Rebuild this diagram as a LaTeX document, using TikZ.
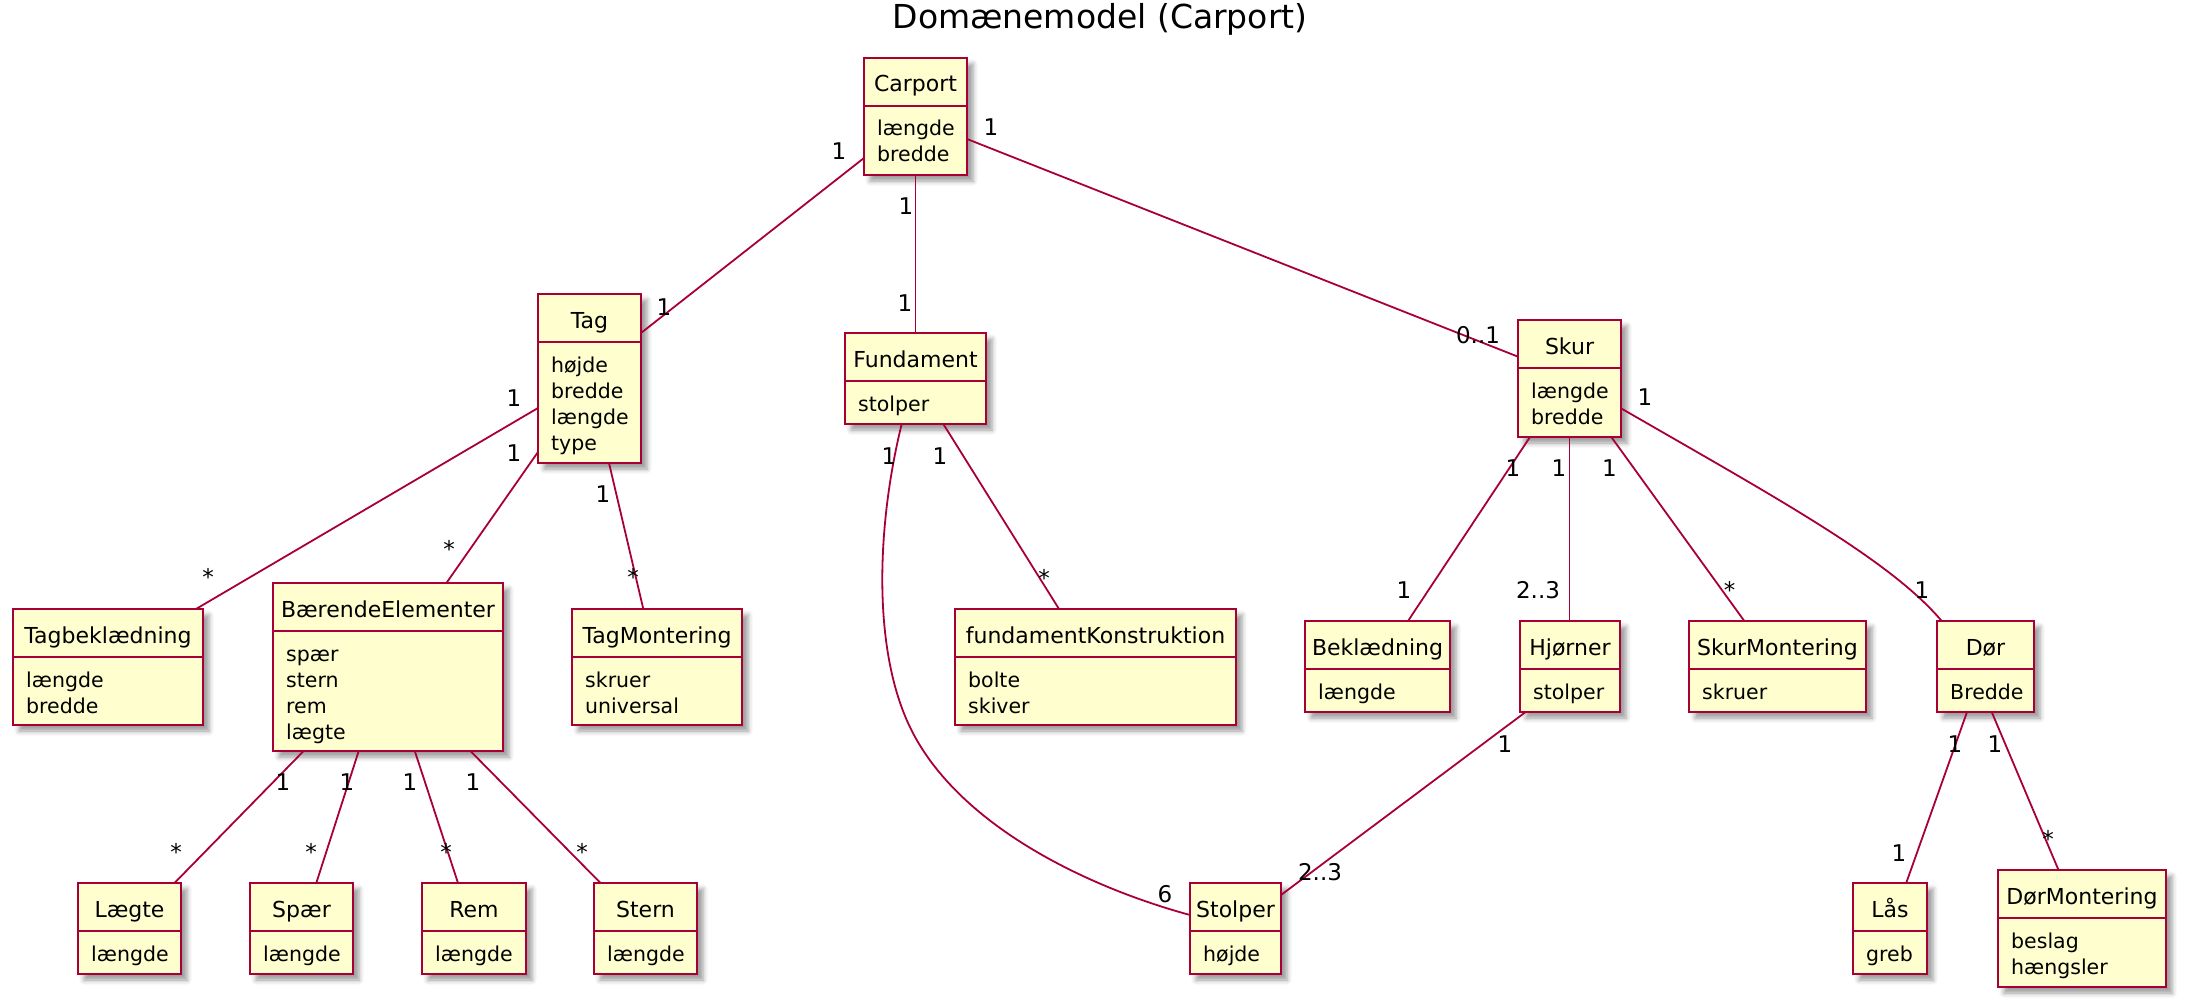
\documentclass[tikz,border=0pt]{standalone}
\usepackage{fontspec}
\setmainfont{DejaVu Sans}
\usetikzlibrary{shadows.blur}
\definecolor{umlred}{HTML}{A80036}
\definecolor{umlfill}{HTML}{FEFECE}
\tikzset{
 clsbox/.style={draw=umlred, fill=umlfill, line width=2.6pt, inner sep=0pt, outer sep=0pt, rectangle,
   blur shadow={shadow xshift=6pt, shadow yshift=-6pt, shadow blur radius=5pt}},
 clsline/.style={draw=umlred, line width=2.6pt},
 clsname/.style={font=\fontsize{22}{26}\selectfont, inner sep=0pt},
 clsattr/.style={font=\fontsize{20.5}{26}\selectfont, inner sep=0pt},
 conn/.style={draw=umlred, line width=1.8pt},
 mult/.style={font=\fontsize{23}{26}\selectfont, inner sep=0pt},
 titletext/.style={font=\fontsize{33}{38}\selectfont, inner sep=0pt},
}
\newcommand\umlclass[7]{%
  \node[clsbox, minimum width={(#4-#2)*1pt}, minimum height={(#5-#3)*1pt}, anchor=north west] (#1) at (#2,#3) {};
  \draw[clsline] ([yshift=-48pt]#1.north west) -- ([yshift=-48pt]#1.north east);
  \node[clsname, anchor=base] (#1-n) at ([yshift=-34pt]#1.north) {#6};
  \foreach \attrtext [count=\i from 0] in {#7} {
    \pgfmathsetmacro\yy{-(78+26*\i)}
    \node[clsattr, anchor=base west] (#1-a\i) at ([xshift=13pt, yshift=\yy pt]#1.north west) {\attrtext};
  }%
}
\begin{document}
\begin{tikzpicture}[x=1pt,y=-1pt]
\useasboundingbox (0,0) rectangle (2185,1006);
\node[titletext, anchor=base] (title) at (1100,29) {Domænemodel (Carport)};

\umlclass{carport}{864}{58}{967}{175}{Carport}{længde,bredde}
\umlclass{tag}{538}{294}{641}{463}{Tag}{højde,bredde,længde,type}
\umlclass{fundament}{845}{333}{986}{424}{Fundament}{stolper}
\umlclass{skur}{1518}{320}{1621}{437}{Skur}{længde,bredde}
\umlclass{tagbek}{13}{609}{203}{725}{Tagbeklædning}{længde,bredde}
\umlclass{baerende}{273}{583}{503}{751}{BærendeElementer}{spær,stern,rem,lægte}
\umlclass{tagmont}{572}{609}{742}{725}{TagMontering}{skruer,universal}
\umlclass{fundkon}{955}{609}{1236}{725}{fundamentKonstruktion}{bolte,skiver}
\umlclass{bekl}{1305}{621}{1450}{712}{Beklædning}{længde}
\umlclass{hjorner}{1520}{621}{1620}{712}{Hjørner}{stolper}
\umlclass{skurmont}{1689}{621}{1866}{712}{SkurMontering}{skruer}
\umlclass{dor}{1937}{621}{2034}{712}{Dør}{Bredde}
\umlclass{laegte}{78}{883}{181}{974}{Lægte}{længde}
\umlclass{spaer}{250}{883}{353}{974}{Spær}{længde}
\umlclass{rem}{422}{883}{526}{974}{Rem}{længde}
\umlclass{stern}{594}{883}{697}{974}{Stern}{længde}
\umlclass{stolper}{1190}{883}{1281}{974}{Stolper}{højde}
\umlclass{laas}{1853}{883}{1927}{974}{Lås}{greb}
\umlclass{dormont}{1998}{870}{2166}{987}{DørMontering}{beslag,hængsler}

\coordinate (fbend) at (906.7,720);
\draw[conn] ([shift={(0,100)}]carport.north west) -- ([shift={(103,39)}]tag.north west);
\draw[conn] (carport.south) -- (fundament.north);
\draw[conn] ([shift={(103,81)}]carport.north west) -- ([shift={(0,36.7)}]skur.north west);
\draw[conn] ([shift={(0,114)}]tag.north west) -- ([shift={(183,0)}]tagbek.north west);
\draw[conn] ([shift={(0,158)}]tag.north west) -- ([shift={(173.4,0)}]baerende.north west);
\draw[conn] ([shift={(71,169)}]tag.north west) -- ([shift={(71.3,0)}]tagmont.north west);
\draw[conn] ([shift={(56.7,91)}]fundament.north west) .. controls (878,520) and (872,640) .. (fbend) .. controls (950,820) and (1080,885) .. ([shift={(0,32)}]stolper.north west);
\draw[conn] ([shift={(98.3,91)}]fundament.north west) -- ([shift={(104,0)}]fundkon.north west);
\draw[conn] ([shift={(12,117)}]skur.north west) -- ([shift={(103,0)}]bekl.north west);
\draw[conn] (skur.south) -- (skur.south |- hjorner.north);
\draw[conn] ([shift={(93.3,117)}]skur.north west) -- ([shift={(55.3,0)}]skurmont.north west);
\draw[conn] ([shift={(103,88.3)}]skur.north west) .. controls (1780,500) and (1890,560) .. ([shift={(4.7,0)}]dor.north west);
\draw[conn] ([shift={(5.6,91)}]hjorner.north west) -- ([shift={(91,12)}]stolper.north west);
\draw[conn] ([shift={(30,91)}]dor.north west) -- ([shift={(53.2,0)}]laas.north west);
\draw[conn] ([shift={(54.7,91)}]dor.north west) -- ([shift={(60.5,0)}]dormont.north west);
\draw[conn] ([shift={(30.6,168)}]baerende.north west) -- ([shift={(96.5,0)}]laegte.north west);
\draw[conn] ([shift={(85.7,168)}]baerende.north west) -- ([shift={(66.3,0)}]spaer.north west);
\draw[conn] ([shift={(141.8,168)}]baerende.north west) -- ([shift={(36,0)}]rem.north west);
\draw[conn] ([shift={(197.4,168)}]baerende.north west) -- ([shift={(6.5,0)}]stern.north west);

\node[mult] (m1) at (839,151) {1};
\node[mult] (m2) at (664,307) {1};
\node[mult] (m3) at (906,206) {1};
\node[mult] (m4) at (905,303) {1};
\node[mult] (m5) at (991,127) {1};
\node[mult] (m6) at (1478,335) {0..1};
\node[mult] (m7) at (514,398) {1};
\node[mult] (m8) at (208,577) {*};
\node[mult] (m9) at (514,453) {1};
\node[mult] (m10) at (449,549) {*};
\node[mult] (m11) at (603,494) {1};
\node[mult] (m12) at (633,577) {*};
\node[mult] (m13) at (889,456) {1};
\node[mult] (m14) at (1165,894) {6};
\node[mult] (m15) at (940,456) {1};
\node[mult] (m16) at (1044,578) {*};
\node[mult] (m17) at (1513,468) {1};
\node[mult] (m18) at (1404,590) {1};
\node[mult] (m19) at (1559,468) {1};
\node[mult] (m20) at (1538,590) {2..3};
\node[mult] (m21) at (1609.5,468) {1};
\node[mult] (m22) at (1729.5,590) {*};
\node[mult] (m23) at (1645,397) {1};
\node[mult] (m24) at (1922,590) {1};
\node[mult] (m25) at (1505,744) {1};
\node[mult] (m26) at (1320,872) {2..3};
\node[mult] (m27) at (1955,744) {1};
\node[mult] (m28) at (1899,853) {1};
\node[mult] (m29) at (1995,744) {1};
\node[mult] (m30) at (2048,839) {*};
\node[mult] (m31) at (283,782) {1};
\node[mult] (m32) at (347,782) {1};
\node[mult] (m33) at (410,782) {1};
\node[mult] (m34) at (473,782) {1};
\node[mult] (m35) at (176,852) {*};
\node[mult] (m36) at (311,852) {*};
\node[mult] (m37) at (446,852) {*};
\node[mult] (m38) at (582,852) {*};
\end{tikzpicture}
\end{document}
